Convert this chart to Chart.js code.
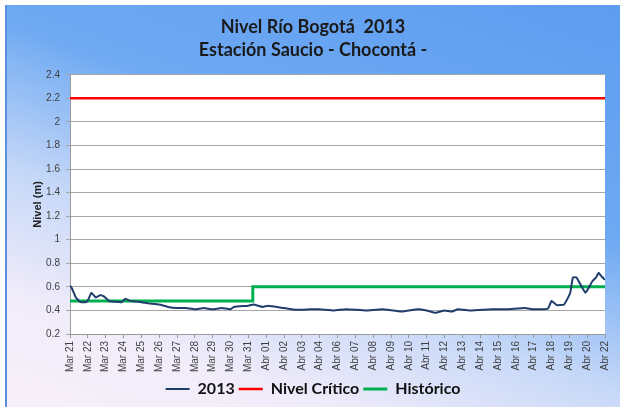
<!DOCTYPE html>
<html>
<head>
<meta charset="utf-8">
<script src="https://cdn.jsdelivr.net/npm/chart.js@4/dist/chart.umd.min.js"></script>
<style>
  html, body { margin: 0; padding: 0; background: #fff; }
  #box {
    position: absolute; left: 5px; top: 5px; width: 615px; height: 402px;
    background: linear-gradient(200deg, #5d9cf0 0%, #6ea9f2 38%, #c6d8f8 62%, #f1ecfa 82%, #f8f0fa 100%);
    border-left: 2px solid #5a8fe0;
    box-sizing: border-box;
  }
  #chart { display: block; }
</style>
</head>
<body>
<div id="box"><canvas id="chart" width="613" height="402"></canvas></div>
<script>
"use strict";

// etiquetas del eje x (una por marca)
const dayLabels = [
  "Mar 21", "Mar 22", "Mar 23", "Mar 24", "Mar 25", "Mar 26", "Mar 27", "Mar 28",
  "Mar 29", "Mar 30", "Mar 31", "Abr 01", "Abr 02", "Abr 03", "Abr 04", "Abr 06",
  "Abr 07", "Abr 08", "Abr 09", "Abr 10", "Abr 11", "Abr 12", "Abr 13", "Abr 14",
  "Abr 15", "Abr 16", "Abr 17", "Abr 18", "Abr 19", "Abr 20", "Abr 22"
];

// nivel 2013 (posición en marcas del eje x, nivel en m)
const nivelX = [
  0, 0.1, 0.33, 0.6, 0.9, 1.05, 1.2, 1.45, 1.7, 1.9, 2.2, 2.9, 3.1, 3.4, 4.0, 4.4,
  5.0, 5.5, 6.0, 6.5, 7.0, 7.5, 8.0, 8.5, 9.0, 9.2, 10.0, 10.3, 10.8, 11.1, 12.0,
  12.7, 13.5, 14.0, 14.8, 15.5, 16.6, 17.5, 18.6, 19.5, 20.0, 20.5, 21.0, 21.4,
  21.75, 22.5, 23.6, 24.5, 25.5, 26.0, 26.8, 27.0, 27.3, 27.7, 27.9, 28.05, 28.2,
  28.4, 28.7, 28.9, 29.0, 29.15, 29.3, 29.5, 29.65, 29.8, 30.0
];
const nivel2013 = [
  0.61, 0.59, 0.51, 0.47, 0.47, 0.50, 0.55, 0.51, 0.53, 0.52, 0.48, 0.47, 0.50, 0.48, 0.47, 0.46,
  0.45, 0.43, 0.42, 0.42, 0.41, 0.42, 0.41, 0.42, 0.41, 0.43, 0.44, 0.45, 0.43, 0.44, 0.42,
  0.405, 0.41, 0.41, 0.40, 0.41, 0.40, 0.41, 0.39, 0.41, 0.40, 0.38, 0.40, 0.39,
  0.41, 0.40, 0.41, 0.41, 0.42, 0.41, 0.415, 0.48, 0.445, 0.45, 0.50, 0.55, 0.68,
  0.68, 0.60, 0.55, 0.57, 0.61, 0.65, 0.68, 0.72, 0.69, 0.66
];

const criticoX = [0, 30];
const critico = [2.2, 2.2];

const historicoX = [0, 10.25, 10.25, 30];
const historico = [0.48, 0.48, 0.60, 0.60];

const yTicks = [0.2, 0.4, 0.6, 0.8, 1, 1.2, 1.4, 1.6, 1.8, 2, 2.2, 2.4];

function zip(xs, ys) {
  return xs.map((x, i) => ({ x: x, y: ys[i] }));
}

const plotBg = {
  id: "plotBg",
  beforeDraw(chart) {
    const a = chart.chartArea;
    const ctx = chart.ctx;
    ctx.save();
    ctx.fillStyle = "#ffffff";
    ctx.fillRect(a.left, a.top, a.right - a.left, a.bottom - a.top);
    ctx.restore();
  }
};

const tickFont = { family: "'Liberation Sans', Arial, sans-serif", size: 10 };

new Chart(document.getElementById("chart").getContext("2d"), {
  type: "line",
  data: {
    datasets: [
      { label: "2013", data: zip(nivelX, nivel2013), borderColor: "#1f3d6b", borderWidth: 2, pointRadius: 0, tension: 0.1 },
      { label: "Nivel Crítico", data: zip(criticoX, critico), borderColor: "#ff0000", borderWidth: 2.5, pointRadius: 0 },
      { label: "Histórico", data: zip(historicoX, historico), borderColor: "#00b050", borderWidth: 3, pointRadius: 0 }
    ]
  },
  options: {
    responsive: false,
    animation: false,
    layout: { padding: { left: 0, right: 1, top: 0, bottom: 0 } },
    plugins: {
      title: {
        display: true,
        text: ["Nivel Río Bogotá  2013", "Estación Saucio - Chocontá -"],
        color: "#1a1a1a",
        font: { family: "Lato, 'Open Sans', sans-serif", size: 18, weight: "bold", lineHeight: 1.3 },
        padding: { top: 10, bottom: 13 }
      },
      legend: {
        position: "bottom",
        labels: {
          usePointStyle: true,
          pointStyle: "line",
          pointStyleWidth: 24,
          color: "#111",
          font: { family: "Lato, 'Open Sans', sans-serif", size: 16, weight: "bold" },
          padding: 4
        }
      },
      tooltip: { enabled: false }
    },
    scales: {
      x: {
        type: "linear",
        min: 0, max: 30,
        afterBuildTicks: s => { s.ticks = dayLabels.map((l, i) => ({ value: i })); },
        afterFit: s => { s.height = 43; },
        ticks: {
          autoSkip: false, minRotation: 90, maxRotation: 90,
          color: "#404040", font: tickFont, padding: 3,
          callback: v => dayLabels[v]
        },
        grid: { drawOnChartArea: false, drawTicks: true, tickLength: 4, color: "#9a9a9a" },
        border: { color: "#9a9a9a" }
      },
      y: {
        min: 0.2, max: 2.4,
        afterBuildTicks: s => { s.ticks = yTicks.map(v => ({ value: v })); },
        afterFit: s => { s.width = 63; },
        ticks: { color: "#404040", font: tickFont, padding: 6, callback: v => String(Math.round(v * 10) / 10) },
        grid: { color: "#a6a6a6", tickLength: 4 },
        border: { color: "#9a9a9a" },
        title: {
          display: true, text: "Nivel (m)", color: "#222",
          font: { family: "'Liberation Sans', Arial, sans-serif", size: 11, weight: "bold" },
          padding: { top: 24, bottom: 0 }
        }
      }
    }
  },
  plugins: [plotBg]
});
</script>
</body>
</html>
